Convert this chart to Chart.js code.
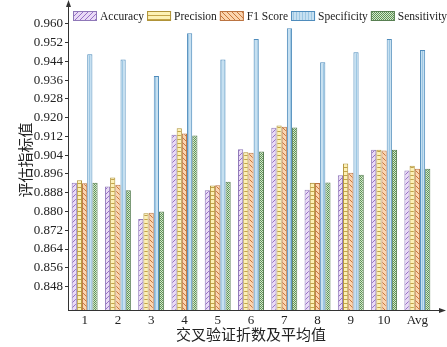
<!DOCTYPE html>
<html>
<head>
<meta charset="utf-8">
<script src="https://cdn.jsdelivr.net/npm/chart.js@4.4.0/dist/chart.umd.min.js"></script>
<style>
  html, body { margin: 0; padding: 0; background: #fff; }
  #wrap { width: 447px; height: 347px; }
</style>
</head>
<body>
<div id="wrap"><canvas id="chart" width="447" height="347"></canvas></div>
<script>
// Data
const categories = ['1', '2', '3', '4', '5', '6', '7', '8', '9', '10', 'Avg'];
const seriesNames = ['Accuracy', 'Precision', 'F1 Score', 'Specificity', 'Sensitivity'];
const accuracy    = [0.8923, 0.8907, 0.8768, 0.9127, 0.8891, 0.9065, 0.9157, 0.8893, 0.8955, 0.9063, 0.8975];
const precision   = [0.8933, 0.8945, 0.8792, 0.9155, 0.8911, 0.9053, 0.9167, 0.8923, 0.9005, 0.9063, 0.8995];
const f1Score     = [0.8920, 0.8914, 0.8795, 0.9133, 0.8912, 0.9050, 0.9161, 0.8921, 0.8965, 0.9060, 0.8982];
const specificity = [0.9470, 0.9448, 0.9378, 0.9560, 0.9448, 0.9535, 0.9581, 0.9436, 0.9479, 0.9536, 0.9489];
const sensitivity = [0.8923, 0.8891, 0.8800, 0.9124, 0.8927, 0.9056, 0.9158, 0.8924, 0.8957, 0.9063, 0.8982];
const yTicks = [0.848, 0.856, 0.864, 0.872, 0.880, 0.888, 0.896, 0.904, 0.912, 0.920, 0.928, 0.936, 0.944, 0.952, 0.960];

const SERIF = '"Liberation Serif", "Times New Roman", "Noto Sans CJK SC", serif';
const CJK = '"Liberation Serif", "Noto Sans CJK SC", serif';

// build small hatch patterns for the bars
function makePattern(size, draw) {
  const c = document.createElement('canvas');
  c.width = size; c.height = size;
  const g = c.getContext('2d');
  draw(g, size);
  return g.createPattern(c, 'repeat');
}

const ctx = document.getElementById('chart').getContext('2d');

const patAccuracy = makePattern(5, (g, s) => {
  g.fillStyle = '#e9daf6'; g.fillRect(0, 0, s, s);
  g.strokeStyle = '#9670c6'; g.lineWidth = 1;
  g.beginPath();
  g.moveTo(-1, s + 1); g.lineTo(s + 1, -1);
  g.moveTo(-1, 1); g.lineTo(1, -1);
  g.moveTo(s - 1, s + 1); g.lineTo(s + 1, s - 1);
  g.stroke();
});
const patPrecision = makePattern(4, (g, s) => {
  g.fillStyle = '#fdf1b4'; g.fillRect(0, 0, s, s);
  g.fillStyle = '#c4a448'; g.fillRect(0, 3, s, 1);
});
const patF1 = makePattern(5, (g, s) => {
  g.fillStyle = '#fbd4ae'; g.fillRect(0, 0, s, s);
  g.strokeStyle = '#c8773a'; g.lineWidth = 1;
  g.beginPath();
  g.moveTo(-1, -1); g.lineTo(s + 1, s + 1);
  g.moveTo(s - 1, -1); g.lineTo(s + 1, 1);
  g.moveTo(-1, s - 1); g.lineTo(1, s + 1);
  g.stroke();
});
const patSpecificity = makePattern(3, (g, s) => {
  g.fillStyle = '#c6e0f1'; g.fillRect(0, 0, s, s);
  g.fillStyle = '#9dc7e3'; g.fillRect(2, 0, 1, s);
});
const patSensitivity = makePattern(2, (g, s) => {
  g.fillStyle = '#d3e9cc'; g.fillRect(0, 0, s, s);
  g.fillStyle = '#5f9156'; g.fillRect(0, 0, 1, 1); g.fillRect(1, 1, 1, 1);
});

const fills = [patAccuracy, patPrecision, patF1, patSpecificity, patSensitivity];
const borders = ['#8f78b8', '#b09338', '#bb7442', '#4f8cbc', '#587f52'];
const values = [accuracy, precision, f1Score, specificity, sensitivity];

// legend + axis arrows drawn on top
const decorPlugin = {
  id: 'decor',
  afterDraw(chart) {
    const c = chart.ctx;
    const area = chart.chartArea;
    c.save();
    // axis extensions with arrow heads
    c.strokeStyle = '#333';
    c.fillStyle = '#333';
    c.lineWidth = 1;
    c.beginPath();
    c.moveTo(area.left + 0.5, area.top);
    c.lineTo(area.left + 0.5, 4);
    c.moveTo(area.right, area.bottom + 0.5);
    c.lineTo(441, area.bottom + 0.5);
    c.stroke();
    c.beginPath();
    c.moveTo(area.left + 0.5, 0);
    c.lineTo(area.left - 2, 7);
    c.lineTo(area.left + 3, 7);
    c.closePath();
    c.fill();
    c.beginPath();
    c.moveTo(446, area.bottom + 0.5);
    c.lineTo(439, area.bottom - 2);
    c.lineTo(439, area.bottom + 3);
    c.closePath();
    c.fill();

    // legend
    c.font = '11.5px ' + SERIF;
    c.textBaseline = 'middle';
    c.textAlign = 'left';
    let x = 73;
    const cy = 16;
    const boxW = 24, boxH = 10;
    chart.data.datasets.forEach((ds) => {
      c.fillStyle = ds.backgroundColor;
      c.fillRect(x, cy - boxH / 2, boxW, boxH);
      c.strokeStyle = ds.borderColor;
      c.strokeRect(x + 0.5, cy - boxH / 2 + 0.5, boxW - 1, boxH - 1);
      x += boxW + 3;
      c.fillStyle = '#222';
      c.fillText(ds.label, x, cy + 0.5);
      x += c.measureText(ds.label).width + 3;
    });
    c.restore();
  }
};

new Chart(ctx, {
  type: 'bar',
  data: {
    labels: categories,
    datasets: seriesNames.map((name, i) => ({
      label: name,
      data: values[i],
      backgroundColor: fills[i],
      borderColor: borders[i],
      borderWidth: 1,
      borderSkipped: 'bottom',
      categoryPercentage: 0.78,
      barPercentage: 1.0
    }))
  },
  options: {
    responsive: false,
    animation: false,
    layout: { padding: { top: 9, right: 13, bottom: 0, left: 0 } },
    plugins: {
      legend: { display: false },
      tooltip: { enabled: false }
    },
    scales: {
      x: {
        grid: { display: false, drawTicks: false },
        border: { display: true, color: '#333', width: 1 },
        ticks: {
          color: '#222',
          font: { family: SERIF, size: 13 },
          padding: 3,
          maxRotation: 0
        },
        title: {
          display: true,
          text: '交叉验证折数及平均值',
          color: '#222',
          font: { family: CJK, size: 15 },
          padding: { top: 0, bottom: 2 }
        },
        afterFit(scale) { scale.height = 37; }
      },
      y: {
        min: 0.838,
        max: 0.966,
        grid: {
          display: true,
          drawOnChartArea: false,
          drawTicks: true,
          tickLength: 3,
          color: '#333'
        },
        border: { display: true, color: '#333', width: 1 },
        ticks: {
          color: '#222',
          font: { family: SERIF, size: 13 },
          padding: 2,
          callback: (v) => Number(v).toFixed(3)
        },
        afterBuildTicks(scale) {
          scale.ticks = yTicks.map(v => ({ value: v }));
        },
        title: {
          display: true,
          text: '评估指标值',
          color: '#222',
          font: { family: CJK, size: 15 },
          padding: { top: 18, bottom: 0 }
        },
        afterFit(scale) { scale.width = 68; }
      }
    }
  },
  plugins: [decorPlugin]
});
</script>
</body>
</html>
